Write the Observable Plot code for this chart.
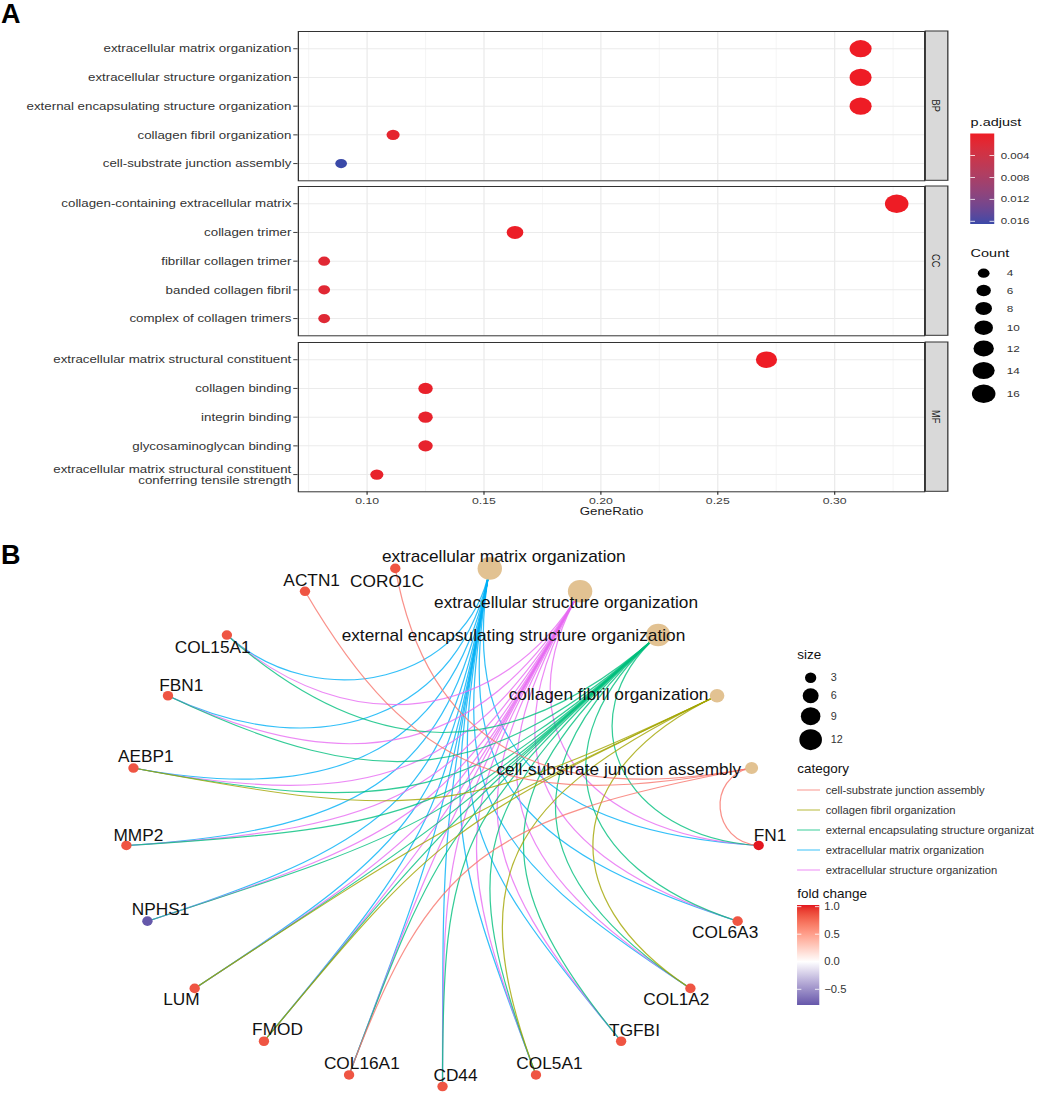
<!DOCTYPE html>
<html>
<head>
<meta charset="utf-8">
<script src="https://cdn.jsdelivr.net/npm/d3@7"></script>
<script src="https://cdn.jsdelivr.net/npm/@observablehq/plot@0.6"></script>
<style>
  html, body { margin: 0; padding: 0; background: #fff; width: 1043px; height: 1098px; overflow: hidden; }
  #page { position: relative; width: 1043px; height: 1098px; overflow: hidden; font-family: "Liberation Sans", Arial, Helvetica, sans-serif; }
  #panelA { position: absolute; left: 0; top: 0; width: 814.84px; height: 540px; transform: scaleX(1.28); transform-origin: 0 0; }
  #panelB { position: absolute; left: 0; top: 540px; width: 965.74px; height: 558px; transform: scaleX(1.08); transform-origin: 0 0; }
  .tag { position: absolute; font-weight: bold; font-size: 27px; line-height: 27px; color: #000; font-family: "Liberation Sans", Arial, sans-serif; }
</style>
</head>
<body>
<div id="page">
  <div id="panelA"></div>
  <div id="panelB"></div>
  <div class="tag" style="left:1px;top:1px;">A</div>
  <div class="tag" style="left:1px;top:542px;">B</div>
</div>
<script>
// ================= DATA =================
// Panel A : GO enrichment dot plot
const ontologies = ["BP", "CC", "MF"];
const ontologyTotals = [45, 49, 48];

const bpTerms = [
  "extracellular matrix organization",
  "extracellular structure organization",
  "external encapsulating structure organization",
  "collagen fibril organization",
  "cell-substrate junction assembly"
];
const bpCounts = [14, 14, 14, 5, 4];
const bpPadj = [2.1e-9, 2.1e-9, 2.1e-9, 1.1e-3, 1.65e-2];

const ccTerms = [
  "collagen-containing extracellular matrix",
  "collagen trimer",
  "fibrillar collagen trimer",
  "banded collagen fibril",
  "complex of collagen trimers"
];
const ccCounts = [16, 8, 4, 4, 4];
const ccPadj = [3e-12, 2e-4, 1.6e-3, 1.6e-3, 1.8e-3];

const mfTerms = [
  "extracellular matrix structural constituent",
  "collagen binding",
  "integrin binding",
  "glycosaminoglycan binding",
  "extracellular matrix structural constituent\nconferring tensile strength"
];
const mfCounts = [13, 6, 6, 6, 5];
const mfPadj = [5e-11, 6e-4, 8e-4, 9e-4, 7e-4];

const xMajorTicks = [0.10, 0.15, 0.20, 0.25, 0.30];
const xMinorTicks = [0.075, 0.125, 0.175, 0.225, 0.275, 0.325];
const padjBreaks = [0.004, 0.008, 0.012, 0.016];
const countBreaks = [4, 6, 8, 10, 12, 14, 16];

// Panel B : gene-concept network (circular layout order)
const termNames = bpTerms;
const termSizes = [14, 14, 14, 5, 4];
const genes = ["FN1", "COL6A3", "COL1A2", "TGFBI", "COL5A1", "CD44", "COL16A1", "FMOD",
               "LUM", "NPHS1", "MMP2", "AEBP1", "FBN1", "COL15A1", "ACTN1", "CORO1C"];
const foldChange = [1.03, 0.85, 0.85, 0.85, 0.85, 0.85, 0.85, 0.85,
                    0.85, -0.785, 0.85, 0.85, 0.85, 0.85, 0.85, 0.85];
const ecmGenes = ["FN1", "COL6A3", "COL1A2", "TGFBI", "COL5A1", "CD44", "COL16A1", "FMOD", "LUM", "NPHS1", "MMP2", "AEBP1", "FBN1", "COL15A1"];
const ecsGenes = ["FN1", "COL6A3", "COL1A2", "TGFBI", "COL5A1", "CD44", "COL16A1", "FMOD", "LUM", "NPHS1", "MMP2", "AEBP1", "FBN1", "COL15A1"];
const eesGenes = ["FN1", "COL6A3", "COL1A2", "TGFBI", "COL5A1", "CD44", "COL16A1", "FMOD", "LUM", "NPHS1", "MMP2", "AEBP1", "FBN1", "COL15A1"];
const cfGenes = ["COL1A2", "COL5A1", "FMOD", "LUM", "AEBP1"];
const csjGenes = ["FN1", "COL16A1", "ACTN1", "CORO1C"];
const termGeneLists = [ecmGenes, ecsGenes, eesGenes, cfGenes, csjGenes];
const sizeBreaks = [3, 6, 9, 12];
const foldBreaks = [1.0, 0.5, 0.0, -0.5];
const legendCategories = ["cell-substrate junction assembly", "collagen fibril organization",
  "external encapsulating structure organization", "extracellular matrix organization",
  "extracellular structure organization"];
// the reference legend shows this entry cut at the image edge
const legendCategoryText = ["cell-substrate junction assembly", "collagen fibril organization",
  "external encapsulating structure organizat", "extracellular matrix organization",
  "extracellular structure organization"];

// ================= STYLE / LAYOUT CONFIG =================
const FONT = '"Liberation Sans", Arial, Helvetica, sans-serif';
const catColors = {
  "cell-substrate junction assembly": "#F8766D",
  "collagen fibril organization": "#A3A500",
  "external encapsulating structure organization": "#00BF7D",
  "extracellular matrix organization": "#00B0F6",
  "extracellular structure organization": "#E76BF3"
};
// label nudges (px) for the network labels
const labelNudge = {
  "extracellular matrix organization": [13, -11.2],
  "extracellular structure organization": [-13, 11.5],
  "external encapsulating structure organization": [-134, 0.5],
  "collagen fibril organization": [-100.5, -0.5],
  "cell-substrate junction assembly": [-123, 1.8],
  "FN1": [10.5, -10], "COL6A3": [-11.6, 11.5], "COL1A2": [-13, 11], "TGFBI": [12.4, -10.7],
  "COL5A1": [12.5, -11], "CD44": [12, -11], "COL16A1": [11.8, -10.7], "FMOD": [12.6, -11.2],
  "LUM": [-12.3, 11], "NPHS1": [12.1, -11], "MMP2": [11.1, -10], "AEBP1": [11.4, -11],
  "FBN1": [12.3, -9.7], "COL15A1": [-13.1, 12.7], "ACTN1": [6.2, -10.7], "CORO1C": [-7.7, 13.4]
};

// ================= PANEL A =================
const PA = { width: 742, left: 232.6, right: 721.9, panelH: 149.3 };
const xDomainA = [0.0706, 0.3385];
const rA = { type: "sqrt", domain: [0, 16], range: [0, 9.2] };
const colorA = { type: "linear", domain: [0, 0.0165], range: ["#EE1C25", "#3A49A8"], interpolate: "lab" };

function facetPlot(terms, counts, padj, total, showX) {
  const rows = terms.map((term, i) => ({ term, count: counts[i], ratio: counts[i] / total, padj: padj[i] }));
  const mb = showX ? 40 : 1;
  return Plot.plot({
    width: PA.width,
    height: 1 + PA.panelH + mb,
    marginLeft: PA.left,
    marginRight: PA.width - PA.right,
    marginTop: 1,
    marginBottom: mb,
    style: { fontFamily: FONT, fontSize: "9.6px", color: "#3d3d3d", background: "transparent", overflow: "visible" },
    x: { domain: xDomainA, ticks: xMajorTicks, tickFormat: d3.format(".2f"), tickSize: 3.5, tickPadding: 2.3, label: null, axis: showX ? "bottom" : null },
    y: { type: "point", domain: terms, padding: 0.6, round: false, tickSize: 3.5, tickPadding: 1, tickFormat: () => "", label: null },
    r: rA,
    color: colorA,
    marks: [
      Plot.ruleX(xMinorTicks, { stroke: "#F2F2F2", strokeWidth: 0.7 }),
      Plot.ruleX(xMajorTicks, { stroke: "#EBEBEB", strokeWidth: 1 }),
      Plot.ruleY(terms, { stroke: "#EBEBEB", strokeWidth: 1 }),
      Plot.dot(rows, { x: "ratio", y: "term", r: "count", fill: "padj" }),
      Plot.frame({ stroke: "#333", strokeWidth: 1 }),
      Plot.text(rows, { y: "term", text: "term", frameAnchor: "left", textAnchor: "end", dx: -5.5, fill: "#333", fontSize: 10.4, lineHeight: 1.1 }),
      showX ? Plot.text(["GeneRatio"], { text: d => d, frameAnchor: "bottom", dy: 23, fill: "#1a1a1a", fontSize: 10.4 }) : null
    ].filter(Boolean)
  });
}

function addStrip(svg, label) {
  const s = d3.select(svg);
  s.append("rect").attr("x", PA.right + 1).attr("y", 1).attr("width", 17.6).attr("height", PA.panelH)
    .attr("fill", "#D9D9D9").attr("stroke", "#333").attr("stroke-width", 1);
  s.append("text").attr("transform", `translate(${PA.right + 1 + 8.8},${1 + PA.panelH / 2}) rotate(90)`)
    .attr("text-anchor", "middle").attr("dy", "0.35em").attr("fill", "#1a1a1a")
    .attr("font-size", 9.2).attr("font-family", FONT).text(label);
}

const panelA = document.getElementById("panelA");
const facetTops = [29.7, 185, 341.3];
const facetData = [[bpTerms, bpCounts, bpPadj], [ccTerms, ccCounts, ccPadj], [mfTerms, mfCounts, mfPadj]];
let plotA0 = null;
facetData.forEach(([t, c, p], k) => {
  const svg = facetPlot(t, c, p, ontologyTotals[k], k === 2);
  addStrip(svg, ontologies[k]);
  svg.style.position = "absolute";
  svg.style.left = "0px";
  svg.style.top = facetTops[k] + "px";
  panelA.appendChild(svg);
  if (k === 0) plotA0 = svg;
});

// Legends A (drawn with the plot's own scales)
(function () {
  const rS = plotA0.scale("r"), cS = plotA0.scale("color");
  const svg = d3.select(panelA).append("svg").attr("width", 814.84).attr("height", 540)
    .style("position", "absolute").style("left", "0px").style("top", "0px").style("overflow", "visible")
    .attr("font-family", FONT);
  svg.append("text").attr("x", 758.3).attr("y", 122.4).attr("dy", "0.35em").attr("font-size", 11.3).attr("fill", "#111").text("p.adjust");
  const bar = { x: 758, y: 133.5, w: 18.75, h: 90.5 };
  const pMax = colorA.domain[1];
  const grad = svg.append("defs").append("linearGradient").attr("id", "gradA").attr("x1", 0).attr("x2", 0).attr("y1", 0).attr("y2", 1);
  d3.range(0, 21).forEach(i => {
    const t = i / 20;
    grad.append("stop").attr("offset", t).attr("stop-color", cS.apply(t * pMax));
  });
  svg.append("rect").attr("x", bar.x).attr("y", bar.y).attr("width", bar.w).attr("height", bar.h).attr("fill", "url(#gradA)");
  padjBreaks.forEach(v => {
    const y = bar.y + v / pMax * bar.h;
    svg.append("line").attr("x1", bar.x).attr("x2", bar.x + 3.7).attr("y1", y).attr("y2", y).attr("stroke", "#fff").attr("stroke-width", 0.8);
    svg.append("line").attr("x1", bar.x + bar.w - 3.7).attr("x2", bar.x + bar.w).attr("y1", y).attr("y2", y).attr("stroke", "#fff").attr("stroke-width", 0.8);
    svg.append("text").attr("x", 781.8).attr("y", y).attr("dy", "0.35em").attr("font-size", 9).attr("fill", "#333").text(d3.format(".3f")(v));
  });
  svg.append("text").attr("x", 758.3).attr("y", 252.9).attr("dy", "0.35em").attr("font-size", 11.3).attr("fill", "#111").text("Count");
  let y = 273.2, prevH = null;
  countBreaks.forEach(v => {
    const r = rS.apply(v);
    const h = Math.max(17.3, 2 * r + 5.5);
    if (prevH !== null) y += (prevH + h) / 2;
    prevH = h;
    svg.append("circle").attr("cx", 768.5).attr("cy", y).attr("r", r).attr("fill", "#000");
    svg.append("text").attr("x", 786.5).attr("y", y).attr("dy", "0.35em").attr("font-size", 9.2).attr("fill", "#333").text(v);
  });
})();

// ================= PANEL B =================
const PB = { width: 760, height: 558, left: 115.7, right: 702.8, top: 25, bottom: 12 };
const nodeNames = [...termNames, ...genes];
const nNodes = nodeNames.length;
// circular layout: nodes placed clockwise from the top, evenly spaced
const layoutPos = {};
nodeNames.forEach((name, i) => {
  const a = Math.PI / 2 - (i + 0.5) * 2 * Math.PI / nNodes;
  layoutPos[name] = { x: Math.cos(a), y: Math.sin(a) };
});
const termNodes = termNames.map((name, i) => ({ name, size: termSizes[i], ...layoutPos[name] }));
const geneNodes = genes.map((name, i) => ({ name, fc: foldChange[i], ...layoutPos[name] }));
const edges = [];
termNames.forEach((t, k) => termGeneLists[k].forEach(g => edges.push({
  category: t, x1: layoutPos[t].x, y1: layoutPos[t].y, x2: layoutPos[g].x, y2: layoutPos[g].y
})));

// arc edges bending toward the layout centre: cubic curve whose control points
// sit on the node radii, pulled inward by half the chord length
const Bxc = (PB.left + PB.right) / 2, Bsx = (PB.right - PB.left) / 2;
const Bsy = (PB.height - PB.top - PB.bottom) / 2, Byc = PB.top + Bsy;
const toLayout = (x, y) => [(x - Bxc) / Bsx, (Byc - y) / Bsy];
const toPixel = (u, v) => [Bxc + u * Bsx, Byc - v * Bsy];
function arcCurve(context) {
  let pts = [];
  return {
    lineStart() { pts = []; },
    point(x, y) { pts.push([x, y]); },
    lineEnd() {
      if (pts.length < 2) return;
      const [[x1, y1], [x2, y2]] = pts;
      const a = toLayout(x1, y1), b = toLayout(x2, y2);
      const k = 1 - Math.hypot(a[0] - b[0], a[1] - b[1]) / 2;
      const c1 = toPixel(a[0] * k, a[1] * k), c2 = toPixel(b[0] * k, b[1] * k);
      context.moveTo(x1, y1);
      context.bezierCurveTo(c1[0], c1[1], c2[0], c2[1], x2, y2);
    },
    areaStart() {}, areaEnd() {}
  };
}

const fcExtent = d3.extent(foldChange);
const fcMax = Math.max(Math.abs(fcExtent[0]), Math.abs(fcExtent[1]));
const colorB = { type: "linear", domain: [-fcMax, 0, fcMax], range: ["#2E2A8F", "#FFFFFF", "#E3161F"], interpolate: "lab" };
const rB = { type: "sqrt", domain: [0, 14], range: [0, 11.3] };

const labelMarks = [...termNodes, ...geneNodes].map(nd => Plot.text([nd], {
  x: "x", y: "y", text: "name", dx: labelNudge[nd.name][0], dy: labelNudge[nd.name][1],
  fontSize: 16, fill: "#111"
}));

const plotB = Plot.plot({
  width: PB.width, height: PB.height,
  marginLeft: PB.left, marginRight: PB.width - PB.right, marginTop: PB.top, marginBottom: PB.bottom,
  style: { fontFamily: FONT, background: "transparent", overflow: "visible" },
  x: { domain: [-1, 1], axis: null },
  y: { domain: [-1, 1], axis: null },
  r: rB,
  color: colorB,
  marks: [
    ...termNames.map(c => Plot.link(edges.filter(e => e.category === c), {
      x1: "x1", y1: "y1", x2: "x2", y2: "y2", stroke: catColors[c], strokeOpacity: 0.8, strokeWidth: 1.15, curve: arcCurve
    })),
    Plot.dot(termNodes, { x: "x", y: "y", r: "size", fill: "#E2C292" }),
    Plot.dot(geneNodes, { x: "x", y: "y", r: 4.8, fill: "fc" }),
    ...labelMarks
  ]
});
plotB.style.position = "absolute";
plotB.style.left = "0px";
plotB.style.top = "0px";
const panelB = document.getElementById("panelB");
panelB.appendChild(plotB);

// Legends B
(function () {
  const rS = plotB.scale("r"), cS = plotB.scale("color");
  const svg = d3.select(panelB).append("svg").attr("width", 965.74).attr("height", 558)
    .style("position", "absolute").style("left", "0px").style("top", "0px").style("overflow", "visible")
    .attr("font-family", FONT);
  svg.append("text").attr("x", 738.2).attr("y", 115).attr("dy", "0.35em").attr("font-size", 12.5).attr("fill", "#111").text("size");
  let y = 137.7, prevH = null;
  sizeBreaks.forEach(v => {
    const r = rS.apply(v);
    const h = Math.max(17.3, 2 * r + 4);
    if (prevH !== null) y += (prevH + h) / 2;
    prevH = h;
    svg.append("circle").attr("cx", 750.6).attr("cy", y).attr("r", r).attr("fill", "#000");
    svg.append("text").attr("x", 769.2).attr("y", y).attr("dy", "0.35em").attr("font-size", 10).attr("fill", "#333").text(v);
  });
  svg.append("text").attr("x", 738.2).attr("y", 228.3).attr("dy", "0.35em").attr("font-size", 12.5).attr("fill", "#111").text("category");
  legendCategories.forEach((c, i) => {
    const yy = 250 + 20 * i;
    svg.append("line").attr("x1", 738).attr("x2", 759.3).attr("y1", yy).attr("y2", yy)
      .attr("stroke", catColors[c]).attr("stroke-opacity", 0.6).attr("stroke-width", 1.3);
    svg.append("text").attr("x", 764.5).attr("y", yy).attr("dy", "0.35em").attr("font-size", 10.4).attr("fill", "#333").text(legendCategoryText[i]);
  });
  svg.append("text").attr("x", 738.2).attr("y", 353.3).attr("dy", "0.35em").attr("font-size", 12.5).attr("fill", "#111").text("fold change");
  const bar = { x: 738, y: 365, w: 20.6, h: 100 };
  const yFc = d3.scaleLinear().domain([fcExtent[1], fcExtent[0]]).range([bar.y, bar.y + bar.h]);
  const grad = svg.append("defs").append("linearGradient").attr("id", "gradB").attr("x1", 0).attr("x2", 0).attr("y1", 0).attr("y2", 1);
  d3.range(0, 31).forEach(i => {
    const t = i / 30;
    grad.append("stop").attr("offset", t).attr("stop-color", cS.apply(yFc.invert(bar.y + t * bar.h)));
  });
  svg.append("rect").attr("x", bar.x).attr("y", bar.y).attr("width", bar.w).attr("height", bar.h).attr("fill", "url(#gradB)");
  foldBreaks.forEach(v => {
    const yy = yFc(v);
    svg.append("line").attr("x1", bar.x).attr("x2", bar.x + 4).attr("y1", yy).attr("y2", yy).attr("stroke", "#fff").attr("stroke-width", 0.8);
    svg.append("line").attr("x1", bar.x + bar.w - 4).attr("x2", bar.x + bar.w).attr("y1", yy).attr("y2", yy).attr("stroke", "#fff").attr("stroke-width", 0.8);
    svg.append("text").attr("x", 763.2).attr("y", yy).attr("dy", "0.35em").attr("font-size", 10.4).attr("fill", "#333").text(d3.format(".1f")(v).replace("-", "\u2212"));
  });
})();
</script>
</body>
</html>
